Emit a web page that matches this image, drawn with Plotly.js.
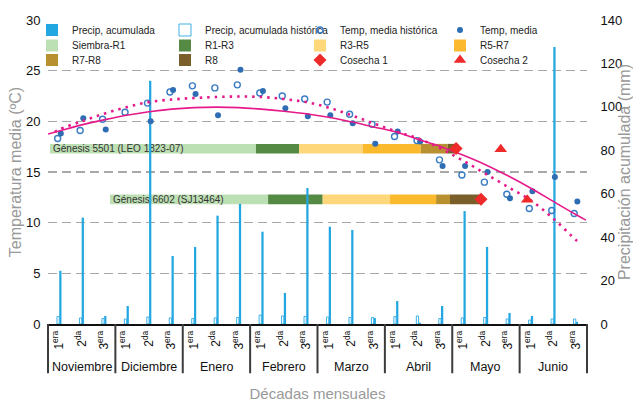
<!DOCTYPE html>
<html><head><meta charset="utf-8">
<script src="https://cdn.plot.ly/plotly-3.0.1.min.js"></script>
<style>html,body{margin:0;padding:0;background:#fff}#chart{width:633px;height:402px}</style>
</head><body><div id="chart"></div>
<script>
// ---------- data ----------
const months = ['Noviembre','Diciembre','Enero','Febrero','Marzo','Abril','Mayo','Junio'];
const decadeLabels = ['1<sup>era</sup>','2<sup>da</sup>','3<sup>era</sup>'];
const decades = [0,1,2,3,4,5,6,7,8,9,10,11,12,13,14,15,16,17,18,19,20,21,22,23];

const precipActual = [24.5,49.0,3.7, 8.3,112.0,31.3, 35.5,49.9,55.3, 42.5,14.3,62.6, 44.8,43.3,2.8, 10.6,0.6,8.3, 52.0,35.5,5.1, 3.7,127.6,1.0];
const precipHist   = [3.4,2.8,2.5, 2.3,3.2,2.8, 2.5,2.8,3.0, 4.1,3.7,3.5, 3.2,3.0,3.0, 3.4,3.7,2.5, 2.8,3.0,2.3, 1.8,2.3,2.3];

const tempHist   = [18.3,19.1,20.2, 20.9,21.8,22.9, 23.5,23.3,23.6, 22.8,22.5,22.2, 21.9,20.7,19.7, 18.5,18.1,16.2, 14.7,14.0,12.8, 11.4,11.2,10.9];
const tempActual = [18.8,20.3,19.2, null,20.0,23.1, 22.7,20.6,25.1, 23.0,21.3,20.5, 20.6,19.8,17.8, 19.0,18.0,15.6, 15.6,15.0,12.4, 13.1,14.5,12.1];

const trendActualX = [-0.5,0,1,2,3,4,5,6,7,8,9,10,11,12,13,14,15,16,17,18,19,20,21,22,23,23.45];
const trendActual  = [18.75,19.05,19.65,20.15,20.6,20.95,21.2,21.35,21.4,21.35,21.2,21.0,20.75,20.4,19.95,19.45,18.95,18.2,17.5,16.65,15.7,14.6,13.4,12.1,10.8,10.25];
const trendHistX = [-0.2,0,1,2,3,4,5,6,7,8,9,10,11,12,13,14,15,16,17,18,19,20,21,22,23,23.16];
const trendHist  = [18.95,19.2,20.0,20.75,21.4,21.9,22.15,22.3,22.4,22.45,22.4,22.2,21.9,21.35,20.6,19.8,19.0,18.3,17.3,16.1,14.8,13.5,12.2,10.4,8.3,8.0];

const stages = ['Siembra-R1','R1-R3','R3-R5','R5-R7','R7-R8','R8'];
const varieties = ['Génesis 5501 (LEO 1823-07)','Génesis 6602 (SJ13464)'];
const varietyLevel = [17.3, 12.3];
const stageBounds5501 = [-0.41, 8.76, 10.68, 13.51, 16.10, 17.30, 17.77];
const stageBounds6602 = [2.26, 9.30, 11.73, 14.73, 16.78, 17.40, 18.86];
const cosecha1X = [17.67, 18.78];
const cosecha1Y = [17.33, 12.3];
const cosecha2X = [19.66, 20.84];
const cosecha2Y = [17.25, 12.25];

// ---------- styles ----------
const FONT = 'Liberation Sans, Arial, sans-serif';
const stageColors = ['#bddfb4','#548a44','#fed77a','#fbb92e','#b8902f','#7b5f2b'];
const legendOf = ['legend2','legend2','legend2','legend2','legend3','legend3'];
const legendW = [88,90,95,80,88,90];

const traces = [];
// Genesis phenology bars (main subplot, below everything)
stages.forEach((s, k) => {
  const t = {
    type:'bar', orientation:'h', name:s, xaxis:'x', yaxis:'y',
    y: varietyLevel,
    base: [stageBounds5501[k], stageBounds6602[k]],
    x: [stageBounds5501[k+1]-stageBounds5501[k], stageBounds6602[k+1]-stageBounds6602[k]],
    width: 0.95, marker:{color:stageColors[k], line:{width:0}},
    legend: legendOf[k], legendwidth: legendW[k], hoverinfo:'skip'
  };
  if (k === 0) {
    t.text = varieties; t.textposition = 'inside'; t.insidetextanchor = 'start';
    t.textangle = 0; t.constraintext = 'none';
    t.insidetextfont = {family:FONT, size:10, color:'#333'};
  }
  traces.push(t);
});
// Precipitation bars
traces.push({type:'bar', name:'Precip, acumulada', x:decades, y:precipActual, xaxis:'x', yaxis:'y2',
  offset:0, width:0.1, marker:{color:'#22a7e0', line:{width:0}}, legend:'legend', legendwidth:88});
traces.push({type:'bar', name:'Precip, acumulada histórica', x:decades, y:precipHist, xaxis:'x', yaxis:'y2',
  offset:-0.1, width:0.1, marker:{color:'#ffffff', line:{color:'#3fb1e6', width:1}}, legend:'legend', legendwidth:90});
// Temperatures
traces.push({type:'scatter', mode:'markers', name:'Temp, media histórica', x:decades.map(d=>d-0.07), y:tempHist,
  xaxis:'x', yaxis:'y3', marker:{symbol:'circle-open', size:6, color:'#3a7cc4', line:{width:1.4}},
  legend:'legend', legendwidth:95});
traces.push({type:'scatter', mode:'markers', name:'Temp, media', x:decades.map(d=>d+0.07), y:tempActual,
  xaxis:'x', yaxis:'y3', marker:{symbol:'circle', size:6, color:'#2e6db4'}, legend:'legend', legendwidth:80});
// Trend lines
traces.push({type:'scatter', mode:'lines', x:trendHistX, y:trendHist, xaxis:'x', yaxis:'y3', showlegend:false,
  line:{color:'#e6198a', width:2.6, dash:'2.5px,5px', shape:'spline'}, hoverinfo:'skip'});
traces.push({type:'scatter', mode:'lines', x:trendActualX, y:trendActual, xaxis:'x', yaxis:'y3', showlegend:false,
  line:{color:'#e6198a', width:1.6, shape:'spline'}, hoverinfo:'skip'});
// Harvest
traces.push({type:'scatter', mode:'markers', name:'Cosecha 1', x:cosecha1X, y:cosecha1Y, xaxis:'x', yaxis:'y3',
  marker:{symbol:'diamond', size:10, color:'#ee2a2a'}, legend:'legend3', legendwidth:95});
traces.push({type:'scatter', mode:'markers', name:'Cosecha 2', x:cosecha2X, y:cosecha2Y, xaxis:'x', yaxis:'y3',
  marker:{symbol:'triangle-up', size:11, color:'#ee2a2a'}, legend:'legend3', legendwidth:80});

// month separators & names
const shapes = [];
for (let k = 0; k <= months.length; k++) {
  shapes.push({type:'line', xref:'paper', yref:'paper', x0:k/months.length, x1:k/months.length, y0:0, y1:-0.162,
    line:{color:'#3c3c3c', width:2}});
}
const annotations = months.map((m, k) => ({
  text:m, xref:'x', x: 3*k+1, yref:'paper', y:-0.141, yanchor:'middle', showarrow:false,
  font:{family:FONT, size:12.5, color:'#111'}
}));

const legBase = {orientation:'h', xref:'container', yref:'container', xanchor:'left', yanchor:'top',
  x: 32/633, bgcolor:'rgba(0,0,0,0)', traceorder:'normal', font:{family:FONT, size:10, color:'#222'}};

const layout = {
  width:633, height:402,
  margin:{l:48, r:46, t:20, b:78, autoexpand:false},
  paper_bgcolor:'#fff', plot_bgcolor:'#fff',
  barmode:'overlay',
  font:{family:FONT, color:'#222'},
  showlegend:true,
  legend: Object.assign({}, legBase, {y: 1-15.5/402}),
  legend2: Object.assign({}, legBase, {y: 1-31/402}),
  legend3: Object.assign({}, legBase, {y: 1-45.5/402}),
  xaxis:{
    range:[-0.5,23.5], tickmode:'array', tickvals:decades,
    ticktext: decades.map(d => decadeLabels[d % 3]),
    tickangle:-90, tickfont:{family:FONT, size:12, color:'#111'},
    showline:true, linecolor:'#111', linewidth:2, showgrid:false, zeroline:false,
    ticks:'', automargin:false,
    title:{text:'Décadas mensuales', font:{family:FONT, size:15, color:'#999'}, standoff:41}
  },
  yaxis:{
    range:[0,30], tickvals:[0,5,10,15,20,25,30], side:'left', automargin:false,
    showgrid:true, gridcolor:'#a8a8a8', gridwidth:1.5, griddash:'9px,5px',
    zeroline:false, showline:false, ticks:'outside', ticklen:4, tickcolor:'rgba(0,0,0,0)',
    tickfont:{family:FONT, size:13, color:'#111'},
    title:{text:'Temperatura media (ºC)', font:{family:FONT, size:16, color:'#999'}, standoff:0}
  },
  yaxis2:{
    range:[0,140], tickvals:[0,20,40,60,80,100,120,140], overlaying:'y', side:'right', automargin:false,
    showgrid:false, zeroline:false, showline:false, ticks:'outside', ticklen:10, tickcolor:'rgba(0,0,0,0)',
    tickfont:{family:FONT, size:13, color:'#111'},
    title:{text:'Precipitación acumulada (mm)', font:{family:FONT, size:16, color:'#999'}, standoff:2}
  },
  yaxis3:{range:[0,30], overlaying:'y', visible:false},
  shapes: shapes,
  annotations: annotations
};

Plotly.newPlot('chart', traces, layout, {displayModeBar:false, staticPlot:true});
</script></body></html>
